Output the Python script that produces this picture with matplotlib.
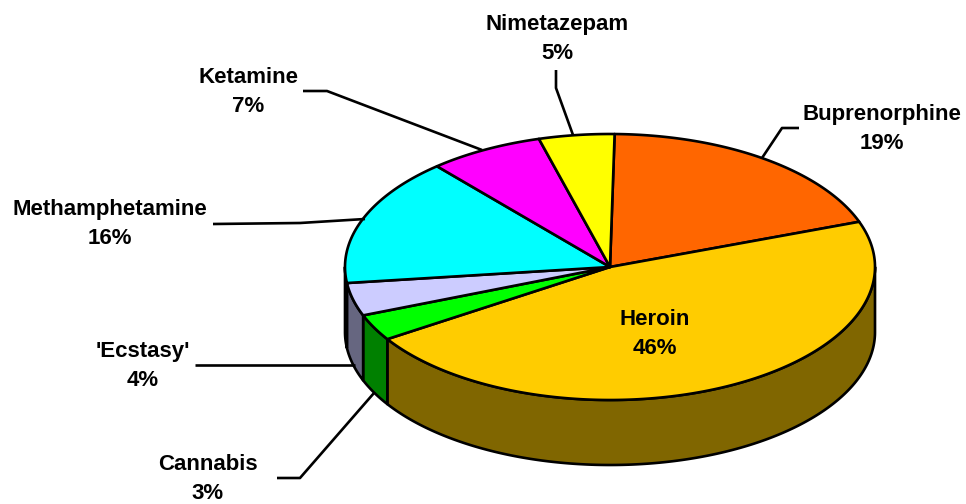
import numpy as np
import matplotlib
matplotlib.use("Agg")
import matplotlib.pyplot as plt
from matplotlib.colors import to_rgb
from matplotlib.patches import Polygon

# clockwise from the top of the pie
NAMES = ["Buprenorphine", "Heroin", "Cannabis", "'Ecstasy'", "Methamphetamine", "Ketamine", "Nimetazepam"]
LABELS = ["19%", "46%", "3%", "4%", "16%", "7%", "5%"]
SHARES = [19.2, 46.4, 3.2, 4.0, 15.6, 7.0, 4.6]
COLORS = ["#FF6600", "#FFCC00", "#00FF00", "#CCCCFF", "#00FFFF", "#FF00FF", "#FFFF00"]

TEXT_POS = [(882, 129), (655, 334), (208, 479), (143, 366), (110, 224), (248, 92), (557, 39)]
LEADERS = [
    [(799, 128), (782, 128), (762, 158)],
    None,
    [(277, 478), (300, 478), (374, 393)],
    [(195, 365), (355, 365)],
    [(213, 224), (300, 223), (365, 219)],
    [(303, 91), (327, 91), (482, 150)],
    [(556, 70), (556, 88), (573, 135)],
]

CX, CY = 610, 267
RX, RY = 265, 133
DEPTH = 65
START = 89
LW = 1.9


def rim(a0, a1, dy=0):
    t = np.radians(np.linspace(a0, a1, max(2, int(abs(a1 - a0) * 2))))
    return np.column_stack((CX + RX * np.cos(t), CY - RY * np.sin(t) + dy))


def main():
    fig = plt.figure(figsize=(9.66, 5.04), dpi=100)
    ax = fig.add_axes([0, 0, 1, 1])
    ax.set_xlim(0, 966)
    ax.set_ylim(504, 0)
    ax.axis("off")

    ends = START - np.cumsum(SHARES) * 3.6
    starts = np.concatenate(([START], ends[:-1]))

    # side walls, only the front half of the rim shows
    for a0, a1, color in zip(starts, ends, COLORS):
        lo = max(a1, -180)
        hi = min(a0, 0)
        if hi <= lo:
            continue
        top = rim(hi, lo)
        bottom = rim(lo, hi, DEPTH)
        dark = tuple(c * 0.5 for c in to_rgb(color))
        ax.add_patch(Polygon(np.vstack((top, bottom)), closed=True, fc=dark, ec="black",
                             lw=LW, joinstyle="round"))

    # top faces
    for a0, a1, color in zip(starts, ends, COLORS):
        pts = np.vstack(([(CX, CY)], rim(a0, a1)))
        ax.add_patch(Polygon(pts, closed=True, fc=color, ec="black", lw=LW, joinstyle="round"))

    for name, share, (x, y), leader in zip(NAMES, LABELS, TEXT_POS, LEADERS):
        ax.text(x, y, name + "\n" + share, ha="center", va="center", fontsize=16,
                fontweight="bold", family="Liberation Sans", linespacing=1.5, color="black")
        if leader:
            xs, ys = zip(*leader)
            ax.plot(xs, ys, color="black", lw=LW, solid_capstyle="butt")

    fig.savefig("out.png", dpi=100, facecolor="white")


if __name__ == '__main__':
    main()
